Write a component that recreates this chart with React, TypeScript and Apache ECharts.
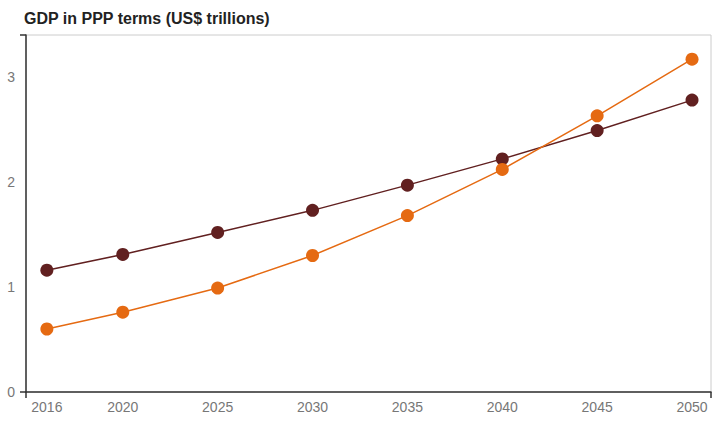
import React, { useEffect, useRef } from "react";
import * as echarts from "echarts";

const years = [2016, 2020, 2025, 2030, 2035, 2040, 2045, 2050];
const seriesA = [1.16, 1.31, 1.52, 1.73, 1.97, 2.22, 2.49, 2.78];
const seriesB = [0.6, 0.76, 0.99, 1.3, 1.68, 2.12, 2.63, 3.17];
const yLabels = [0, 1, 2, 3];
const titleText = "GDP in PPP terms (US$ trillions)";

const FONT = "'Liberation Sans', Arial, Helvetica, sans-serif";
const X_MIN = 2014.9;
const X_MAX = 2051;
const Y_MAX = 3.4;

export default function App() {
  const ref = useRef<HTMLDivElement>(null);
  useEffect(() => {
    const chart = echarts.init(ref.current!, null, { renderer: "svg" });
    chart.setOption({
      animation: false,
      backgroundColor: "#fff",
      title: {
        text: titleText,
        left: 19,
        top: 5,
        textStyle: { fontFamily: FONT, fontSize: 16, fontWeight: "bold", color: "#222" },
      },
      grid: {
        left: 26,
        right: 15,
        top: 35,
        bottom: 40,
        show: true,
        borderColor: "#ccc",
        borderWidth: 1,
      },
      xAxis: {
        type: "value",
        min: X_MIN,
        max: X_MAX,
        axisLine: { show: true, onZero: false, lineStyle: { color: "#333", width: 1.5 } },
        splitLine: { show: false },
        axisTick: {
          show: true,
          customValues: [X_MIN, X_MAX],
          length: 6,
          lineStyle: { color: "#333", width: 1.5 },
        },
        axisLabel: {
          customValues: years,
          formatter: (v: number) => String(Math.round(v)),
          color: "#777",
          fontSize: 14,
          fontFamily: FONT,
          margin: 8,
        },
      },
      yAxis: {
        type: "value",
        min: 0,
        max: Y_MAX,
        axisLine: { show: true, onZero: false, lineStyle: { color: "#333", width: 1.5 } },
        splitLine: { show: false },
        axisTick: {
          show: true,
          customValues: [0, Y_MAX],
          length: 6,
          lineStyle: { color: "#333", width: 1.5 },
        },
        axisLabel: {
          customValues: yLabels,
          formatter: (v: number) => String(v),
          color: "#777",
          fontSize: 14,
          fontFamily: FONT,
          margin: 11,
        },
      },
      series: [
        {
          name: "Country A",
          type: "line",
          data: years.map((y, i) => [y, seriesA[i]]),
          symbol: "circle",
          symbolSize: 13,
          color: "#612020",
          lineStyle: { color: "#612020", width: 1.5 },
          itemStyle: { color: "#612020" },
        },
        {
          name: "Country B",
          type: "line",
          data: years.map((y, i) => [y, seriesB[i]]),
          symbol: "circle",
          symbolSize: 13,
          color: "#e56a12",
          lineStyle: { color: "#e56a12", width: 1.5 },
          itemStyle: { color: "#e56a12" },
        },
      ],
    });
    return () => chart.dispose();
  }, []);
  return (
    <div
      ref={ref}
      style={{ position: "absolute", left: 0, top: 0, width: 726, height: 432 }}
    />
  );
}
